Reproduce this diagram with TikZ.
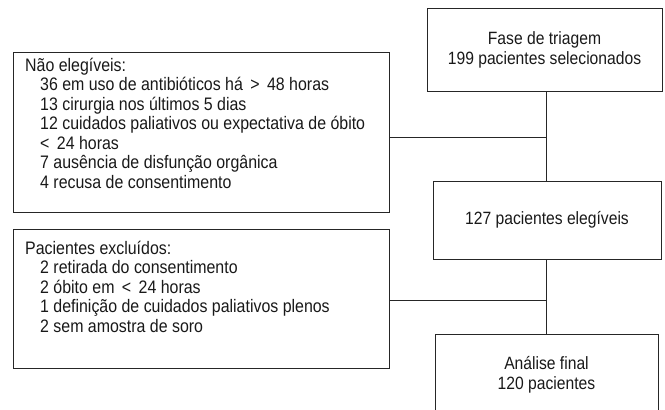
\documentclass[tikz,border=0pt]{standalone}
\usepackage{fontspec}
\setmainfont{Liberation Sans}[FakeStretch=0.88]
\begin{document}
\begin{tikzpicture}[x=1pt,y=-1pt,
  box/.style={draw=black!85, line width=1pt, inner sep=0pt, align=center,
    font=\fontsize{17.8}{20}\selectfont, text=black!90},
  conn/.style={draw=black!85, line width=1pt},
  txt/.style={font=\fontsize{18.1}{19.5}\selectfont, text=black!90, inner sep=0pt, anchor=base west}]
\useasboundingbox (0,0) rectangle (665,410);
\clip (0,0) rectangle (665,410);
% right column
\node[box, minimum width=235pt, minimum height=83pt] (fase) at (544.5,49.5)
  {Fase de triagem\\199 pacientes selecionados};
\node[box, minimum width=228pt, minimum height=78pt] (eleg) at (547,220)
  {127 pacientes eleg\'iveis};
\node[box, minimum width=223pt, minimum height=82pt] (final) at (546.5,375)
  {An\'alise final\\120 pacientes};
% left boxes
\node[box, minimum width=376pt, minimum height=160pt] (nao) at (201,132) {};
\node[box, minimum width=376pt, minimum height=139pt] (excl) at (201,298.5) {};
% text of left boxes
\node[txt] (n1) at (25,71) {Não elegíveis:};
\node[txt] (n2) at (40,90.5) {36 em uso de antibióticos há \,>\, 48 horas};
\node[txt] (n3) at (40,110) {13 cirurgia nos últimos 5 dias};
\node[txt] (n4) at (40,129.5) {12 cuidados paliativos ou expectativa de óbito};
\node[txt] (n5) at (40,149) {<\, 24 horas};
\node[txt] (n6) at (40,168.5) {7 ausência de disfunção orgânica};
\node[txt] (n7) at (40,188) {4 recusa de consentimento};
\node[txt] (e1) at (25,254) {Pacientes excluídos:};
\node[txt] (e2) at (40,273.5) {2 retirada do consentimento};
\node[txt] (e3) at (40,293) {2 óbito em \,<\, 24 horas};
\node[txt] (e4) at (40,312.5) {1 definição de cuidados paliativos plenos};
\node[txt] (e5) at (40,332) {2 sem amostra de soro};
% connectors
\coordinate (j1) at (546,137);
\coordinate (j2) at (546,300);
\draw[conn] (fase.south -| j1) -- (eleg.north -| j1);
\draw[conn] (eleg.south -| j2) -- (final.north -| j2);
\draw[conn] (nao.east |- j1) -- (j1);
\draw[conn] (excl.east |- j2) -- (j2);
\end{tikzpicture}
\end{document}
